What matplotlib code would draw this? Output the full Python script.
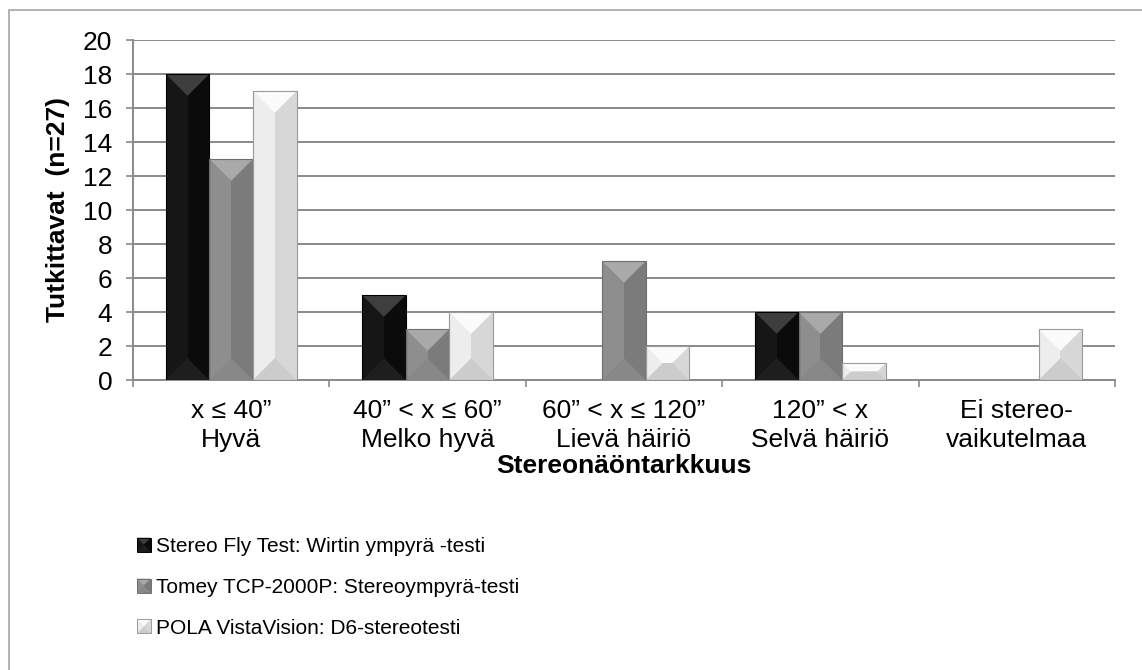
import matplotlib
matplotlib.use('Agg')
import matplotlib.pyplot as plt
from matplotlib.patches import Polygon, Rectangle, Patch
from matplotlib.legend_handler import HandlerBase
import numpy as np

plt.rcParams['font.family'] = ['Liberation Sans', 'DejaVu Sans']

categories = ['x ≤ 40”\nHyvä', '40” < x ≤ 60”\nMelko hyvä', '60” < x ≤ 120”\nLievä häiriö',
              '120” < x\nSelvä häiriö', 'Ei stereo-\nvaikutelmaa']
series_names = ['Stereo Fly Test: Wirtin ympyrä -testi',
                'Tomey TCP-2000P: Stereoympyrä-testi',
                'POLA VistaVision: D6-stereotesti']
fly_test = [18, 5, 0, 4, 0]
tomey = [13, 3, 7, 4, 0]
pola = [17, 4, 2, 1, 3]

# (left face, right face, top bevel, bottom bevel, edge)
shades = [('#161616', '#0b0b0b', '#3e3e3e', '#1e1e1e', '#000000'),
          ('#8e8e8e', '#7b7b7b', '#a9a9a9', '#888888', '#6e6e6e'),
          ('#ededed', '#d7d7d7', '#fbfbfb', '#cccccc', '#9a9a9a')]


def bevel_polys(px0, py0, px1, py1):
    pc = (px0 + px1) / 2
    d = min((px1 - px0) / 2, (py1 - py0) / 2)
    right = [(pc, py0), (px1, py0), (px1, py1), (pc, py1)]
    top = [(px0, py1), (px1, py1), (px1 - d, py1 - d), (px0 + d, py1 - d)]
    bottom = [(px0, py0), (px1, py0), (px1 - d, py0 + d), (px0 + d, py0 + d)]
    return right, top, bottom


class BevelHandler(HandlerBase):
    def create_artists(self, legend, orig_handle, xdescent, ydescent, width, height,
                       fontsize, trans):
        lf, rf, tp, bt, ec = orig_handle.shade
        x0, y0 = -xdescent, -ydescent
        x1, y1 = x0 + width, y0 + height
        arts = [Rectangle((x0, y0), width, height, facecolor=lf, edgecolor='none', transform=trans)]
        for pts, col in zip(bevel_polys(x0, y0, x1, y1), (rf, tp, bt)):
            arts.append(Polygon(pts, closed=True, facecolor=col, edgecolor='none', transform=trans))
        arts.append(Rectangle((x0, y0), width, height, fill=False, edgecolor=ec,
                              linewidth=0.7, transform=trans))
        return arts


W, H = 1142, 670
fig = plt.figure(figsize=(W / 100, H / 100), dpi=100)
ax = fig.add_axes([133 / W, 1 - 380 / H, 982 / W, 340 / H])
ax.set_xlim(-0.5, len(categories) - 0.5)
ax.set_ylim(0, 20)

grid_col = '#8a8a8a'
ax.set_yticks(np.arange(0, 21, 2))
ax.yaxis.grid(True, color=grid_col, linewidth=1.4)
ax.set_axisbelow(True)
ax.tick_params(axis='y', length=5, width=1.2, color=grid_col, pad=10, labelsize=19)
ax.set_xticks(np.arange(len(categories)))
ax.set_xticklabels(categories, fontsize=19, linespacing=1.3)
ax.set_xticks(np.arange(len(categories) + 1) - 0.5, minor=True)
ax.tick_params(axis='x', which='major', length=0, pad=13.5)
ax.tick_params(axis='x', which='minor', length=5, width=1.2, color=grid_col)
for s in ['top', 'right']:
    ax.spines[s].set_visible(False)
for s in ['left', 'bottom']:
    ax.spines[s].set_color(grid_col)
    ax.spines[s].set_linewidth(1.4)

ax.set_xlabel('Stereonäöntarkkuus', fontsize=19, fontweight='bold', labelpad=1)
ax.set_ylabel('Tutkittavat  (n=27)', fontsize=19, fontweight='bold', labelpad=9)

bw = 1 / 4.5
x = np.arange(len(categories))
to_data = ax.transData.inverted()
for i, vals in enumerate([fly_test, tomey, pola]):
    lf, rf, tp, bt, ec = shades[i]
    bars = ax.bar(x + (i - 1) * bw, vals, bw, color=lf, edgecolor='none', zorder=2)
    for b, v in zip(bars, vals):
        if v <= 0:
            continue
        (px0, py0), (px1, py1) = ax.transData.transform(
            [(b.get_x(), b.get_y()), (b.get_x() + b.get_width(), b.get_y() + b.get_height())])
        for pts, col in zip(bevel_polys(px0, py0, px1, py1), (rf, tp, bt)):
            ax.add_patch(Polygon(to_data.transform(pts), closed=True, facecolor=col,
                                 edgecolor='none', zorder=3))
        ax.add_patch(Rectangle((b.get_x(), 0), b.get_width(), v, fill=False,
                               edgecolor=ec, linewidth=0.8, zorder=4))

handles = []
for s in shades:
    h = Patch(facecolor=s[0])
    h.shade = s
    handles.append(h)
fig.legend(handles, series_names, loc='upper left', bbox_to_anchor=(137 / W, 1 - 537 / H),
           frameon=False, fontsize=15, handlelength=0.65, handleheight=0.65,
           handletextpad=0.25, labelspacing=1.05, borderpad=0, borderaxespad=0,
           handler_map={Patch: BevelHandler()})

fig.patches.append(Rectangle((9 / W, -0.01), 1.02, 1 - 10 / H + 0.01, transform=fig.transFigure,
                             fill=False, edgecolor='#a6a6a6', linewidth=1.2))

fig.savefig('out.png', dpi=100)
